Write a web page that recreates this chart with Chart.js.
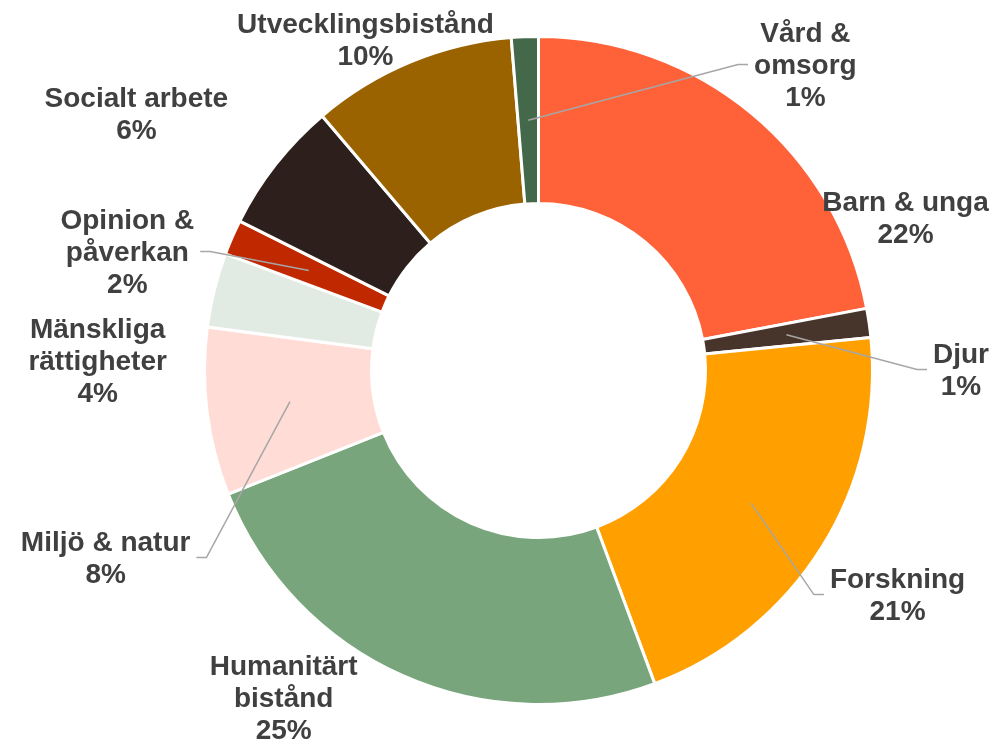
<!DOCTYPE html>
<html>
<head>
<meta charset="utf-8">
<script src="https://cdn.jsdelivr.net/npm/chart.js@4"></script>
<style>
html,body{margin:0;padding:0;background:#fff;}
canvas{display:block;}
</style>
</head>
<body>
<canvas id="c" width="994" height="745"></canvas>
<script>
// ---- data ----
const categories = ['Barn & unga','Djur','Forskning','Humanitärt bistånd','Miljö & natur','Mänskliga rättigheter','Opinion & påverkan','Socialt arbete','Utvecklingsbistånd','Vård & omsorg'];
const shares = [22.0, 1.4, 20.9, 24.6, 8.1, 3.6, 1.7, 6.4, 9.9, 1.3];
const labelLines = [['Barn & unga'],['Djur'],['Forskning'],['Humanitärt','bistånd'],['Miljö & natur'],['Mänskliga','rättigheter'],['Opinion &','påverkan'],['Socialt arbete'],['Utvecklingsbistånd'],['Vård &','omsorg']];

// ---- style / layout ----
const colors = ['#FF6139','#47352C','#FFA000','#78A57B','#FFDCD6','#E2EBE3','#C02800','#2D201C','#9A6300','#44694A'];
// label centre offsets relative to doughnut centre, in units of outer radius
const labelOffsets = [[1.099,-0.452],[1.265,0.003],[1.075,0.677],[-0.763,0.985],[-1.296,0.566],[-1.320,-0.024],[-1.231,-0.350],[-1.204,-0.763],[-0.518,-0.985],[0.799,-0.910]];
const hasLeader = [false,true,true,false,true,false,true,false,false,true];

const FONT = 'bold 28px "Liberation Sans", Arial, sans-serif';
const LINE_H = 32;

const labelPlugin = {
  id: 'outLabels',
  afterDatasetsDraw(chart) {
    const ctx = chart.ctx;
    const meta = chart.getDatasetMeta(0);
    const total = shares.reduce((a,b)=>a+b,0);
    ctx.save();
    ctx.font = FONT;
    meta.data.forEach((arc, i) => {
      const R = arc.outerRadius, cx = arc.x, cy = arc.y;
      const lx = cx + labelOffsets[i][0]*R;
      const ly = cy + labelOffsets[i][1]*R;
      const lines = labelLines[i].concat([Math.round(shares[i]/total*100) + '%']);
      const maxW = Math.max(...lines.map(l => ctx.measureText(l).width));
      if (hasLeader[i]) {
        const p = arc.getCenterPoint();
        const right = lx > cx;
        const endX = right ? lx - maxW/2 - 6 : lx + maxW/2 + 6;
        const elbowX = right ? endX - 10 : endX + 10;
        const y = ly - 2;
        ctx.strokeStyle = '#A6A6A6';
        ctx.lineWidth = 1.5;
        ctx.beginPath();
        ctx.moveTo(p.x, p.y);
        ctx.lineTo(elbowX, y);
        ctx.lineTo(endX, y);
        ctx.stroke();
      }
      ctx.fillStyle = '#404040';
      ctx.textAlign = 'center';
      ctx.textBaseline = 'middle';
      const top = ly - (lines.length - 1) * LINE_H / 2;
      lines.forEach((l, k) => ctx.fillText(l, lx, top + k*LINE_H));
    });
    ctx.restore();
  }
};

new Chart(document.getElementById('c'), {
  type: 'doughnut',
  data: {
    labels: categories,
    datasets: [{
      data: shares,
      backgroundColor: colors,
      borderColor: '#FFFFFF',
      borderWidth: 3,
      hoverOffset: 0
    }]
  },
  options: {
    responsive: false,
    animation: false,
    cutout: '50%',
    layout: { padding: { left: 203, right: 120, top: 35, bottom: 39 } },
    plugins: { legend: { display: false }, tooltip: { enabled: false } }
  },
  plugins: [labelPlugin]
});
</script>
</body>
</html>
